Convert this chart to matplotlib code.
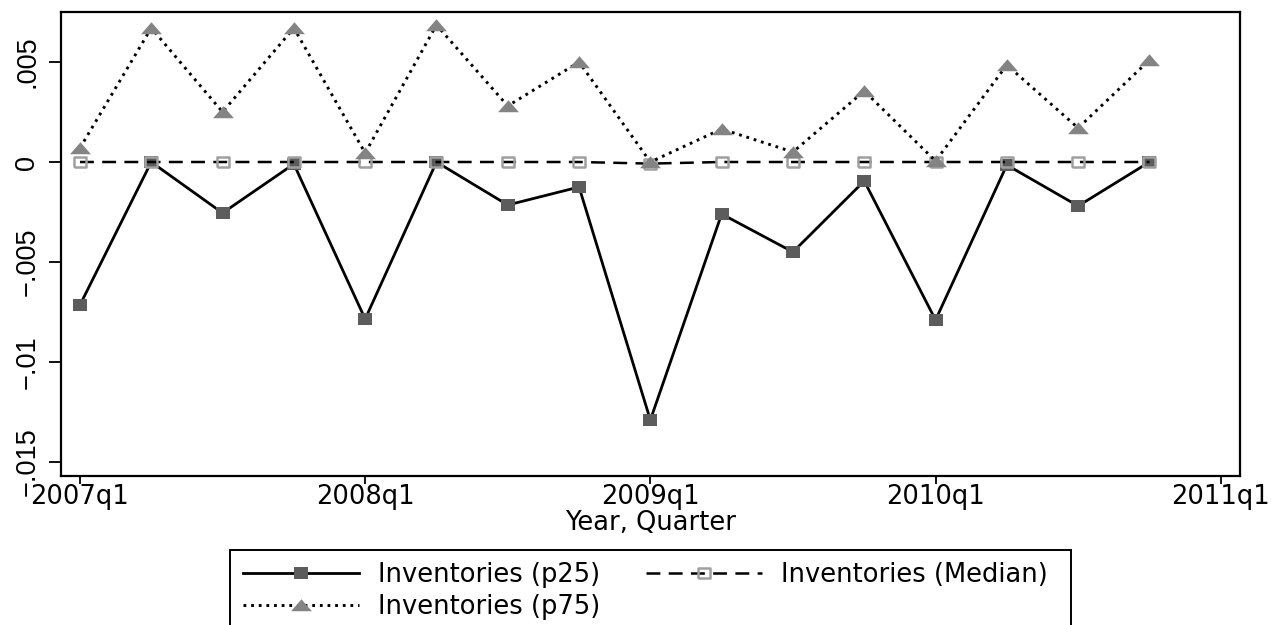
import matplotlib
matplotlib.use("Agg")
import matplotlib.pyplot as plt
from matplotlib.patches import Rectangle

# Quarterly inventory growth distribution, 2007q1-2010q4
quarters = list(range(16))
tick_positions = [0, 4, 8, 12, 16]
tick_labels = ["2007q1", "2008q1", "2009q1", "2010q1", "2011q1"]

p25 = [-0.00715, 0.0, -0.00255, -0.0001, -0.00785, 0.0, -0.00215, -0.00125,
       -0.0129, -0.0026, -0.0045, -0.00095, -0.0079, -0.00015, -0.0022, 0.0]
median = [0.0, 0.0, 0.0, 0.0, 0.0, 0.0, 0.0, 0.0,
          -0.00008, 0.0, 0.0, 0.0, 0.0, 0.0, 0.0, 0.0]
p75 = [0.0007, 0.0067, 0.0025, 0.0067, 0.00045, 0.00685, 0.0028, 0.005,
       0.0, 0.00165, 0.0005, 0.00355, 0.00005, 0.00485, 0.0017, 0.0051]

y_ticks = [0.005, 0.0, -0.005, -0.01, -0.015]
y_tick_labels = [".005", "0", "\u2212.005", "\u2212.01", "\u2212.015"]

series_labels = ["Inventories (p25)", "Inventories (Median)", "Inventories (p75)"]

plt.rcParams["lines.scale_dashes"] = False
plt.rcParams["font.family"] = ["DejaVu Sans"]

W, H = 1271, 625
fig = plt.figure(figsize=(W / 100, H / 100), dpi=100)
ax = fig.add_axes([61 / W, 1 - 476 / H, (1240 - 61) / W, (476 - 12) / H])

# wide, short markers
sq = [(-1, -0.85), (1, -0.85), (1, 0.85), (-1, 0.85), (-1, -0.85)]
tri = [(-1, -0.55), (1, -0.55), (0, 0.6), (-1, -0.55)]

l25, = ax.plot(quarters, p25, color="black", lw=2.0, marker=sq, markersize=10,
               markerfacecolor="#5c5c5c", markeredgecolor="#5c5c5c", markeredgewidth=0,
               solid_joinstyle="miter")
lmed, = ax.plot(quarters, median, color="black", lw=1.8, dashes=(10, 6),
                marker=sq, markersize=8.5, markerfacecolor="none",
                markeredgecolor="#a0a0a0", markeredgewidth=1.8)
l75, = ax.plot(quarters, p75, color="black", lw=2.1, dashes=(2.0, 3.5),
               marker=tri, markersize=15, markerfacecolor="#848484",
               markeredgecolor="#848484", markeredgewidth=0)

ax.set_xlim(-0.266, 16.27)
ax.set_ylim(-0.0157, 0.0075)

ax.set_xticks(tick_positions)
ax.set_xticklabels(tick_labels, fontsize=18.5)
ax.set_yticks(y_ticks)
ax.set_yticklabels(y_tick_labels, fontsize=19.5, family="Liberation Sans",
                   rotation=90, va="center")
ax.tick_params(axis="x", length=6, width=1.3, pad=0, colors="black")
ax.tick_params(axis="y", length=9, width=1.3, pad=6, colors="black")

for s in ax.spines.values():
    s.set_linewidth(1.6)
    s.set_color("black")

ax.set_xlabel("Year, Quarter", fontsize=18.5, labelpad=0)

# legend box (runs past the lower edge of the canvas)
fig.add_artist(Rectangle((230 / W, 1 - 700 / H), (1071 - 230) / W, (700 - 550) / H,
                         transform=fig.transFigure, fill=False, edgecolor="black",
                         linewidth=1.4, clip_on=False))
fig.legend([l25, l75, lmed], [series_labels[0], series_labels[2], series_labels[1]],
           ncol=2, loc="upper left", bbox_to_anchor=(243 / W, 1 - 562 / H),
           frameon=False, borderpad=0, borderaxespad=0, handlelength=4.5,
           handletextpad=0.75, columnspacing=1.8, labelspacing=0.25,
           fontsize=18.5, numpoints=1)

fig.savefig("out.png", dpi=100)
